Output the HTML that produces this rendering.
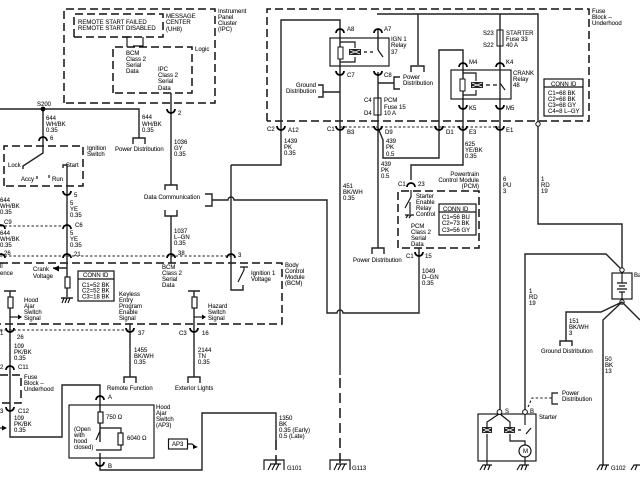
<!DOCTYPE html>
<html><head><meta charset="utf-8"><style>
html,body{margin:0;padding:0;background:#fff}
svg{display:block;filter:blur(.35px)}
text{font-family:"Liberation Sans",sans-serif;font-size:6px;fill:#111;stroke:#111;stroke-width:.08}
.w{fill:none;stroke:#222;stroke-width:1.4}
.t{fill:none;stroke:#111;stroke-width:1.15}
.d{fill:none;stroke:#111;stroke-width:1.5;stroke-dasharray:8 4}
.o{fill:none;stroke:#222;stroke-width:1.1;stroke-dasharray:2.5 2}
.c{fill:none;stroke:#000;stroke-width:1.8}
.x{fill:none;stroke:#fff;stroke-width:.8}
</style></head><body>
<svg width="640" height="480" viewBox="0 0 640 480" xmlns="http://www.w3.org/2000/svg">
<defs>
<path id="n" class="c" d="M-4,1A4,4 0 0 1 4,1"/>
<path id="u" class="c" d="M-4,-1A4,4 0 0 0 4,-1"/>
</defs>
<!-- dashed enclosures -->
<path class="d" d="M64,103V9H215V103H64"/>
<path class="d" d="M74,37V14H163V37H74"/>
<path class="d" d="M113,93V47H192V93H113"/>
<path class="d" d="M4,186V146H83V186H4"/>
<path class="d" d="M0,263H282V324H0"/>
<path class="d" d="M0,375H21V403H0"/>
<path class="d" d="M267,121V9H589V121H267"/>
<path class="d" d="M398,248V191H479V248H398"/>
<!-- dotted connector rows -->
<path class="o" d="M0,226H67M0,256H231M0,330H130M340,127H500"/>
<!-- IPC wiring -->
<path class="t" d="M122,37H132M127,37V47M133,46H143V37"/>
<path class="w" d="M171,93V185M165,190V185H177V190M165,210V216H177V210M171,216V263"/>
<path class="w" d="M205,194H212V206H205M212,200H228A3,3 0 0 1 234,200H327V313H337A3,3 0 0 1 343,313H419V253"/>
<!-- S200 and ignition -->
<path class="w" d="M0,109H139V138M133,144V138H145V144M43,109V153L23,166V169"/>
<circle cx="43" cy="109" r="2.4" fill="#000"/>
<path class="w" d="M63,168V165H67V263M67,268H53M67,263V277M67,288V297M61,298H73"/>
<path fill="#000" d="M53,268.500l6,-3v6z"/>
<rect class="t" x="65" y="277" width="5" height="11"/>
<path class="t" d="M62,303l2,-5M65,303l2,-5M68,303l2,-5"/>
<path class="t" d="M37,176V179M49,175V178"/>
<!-- BCM switch -->
<path class="w" d="M231,165V290H243V285M231,165H281V20H340V375"/>
<path class="t" d="M238,282L244,270V267M240,267H248"/>
<!-- CONN ID 1 -->
<rect x="78" y="271" width="36" height="30" fill="#fff" stroke="#111" stroke-width="1.2"/><path class="t" d="M78,279H114"/>
<!-- Hood -->
<path class="w" d="M4,291H16M10,291V297M10,308V437H62V385H100V412M100,423V442M100,453V470H202V413H276V440"/>
<rect class="t" x="8" y="297" width="5" height="11"/>
<path class="t" d="M10,317H20"/><path fill="#000" d="M22,317l-4,-2.500v5z"/>
<path fill="#000" d="M7,428l-5,-2.500v5z"/><path class="t" d="M0,428H4"/>
<rect class="t" x="69" y="405" width="85" height="53"/>
<rect class="t" x="98" y="412" width="5" height="11"/>
<path class="t" d="M96,440L100,431M100,428H121V433M121,445V450H100M96,450H100"/>
<rect class="t" x="118" y="433" width="5" height="12"/>
<rect class="t" x="168.500" y="439" width="19" height="10"/>
<path class="t" d="M188,444H192L196,447"/><path fill="#000" d="M198,447l-5,-2v4z"/>
<!-- Hazard / Keyless / Remote -->
<path class="w" d="M188,291H200M194,291V297M194,308V377M130,323V377M124,383V377H136V383M188,383V377H200V383"/>
<rect class="t" x="192" y="297" width="5" height="11"/>
<path class="t" d="M194,317H203"/><path fill="#000" d="M206,317l-4,-2.500v5z"/>
<!-- Fuse block -->
<path class="d" style="stroke-dasharray:10 5" d="M340,378V464M276,440V464"/>
<path class="w" d="M378,29V50M378,72V128L383,140V158H439V50H463V165H411V180M378,128V248M372,254V248H384V254"/>
<path class="w" d="M377,14H538V124M418,14V65M411,72V66H424V72M378,83H394M400,77H394V89H400M340,92H323M318,85H323V97H318"/>
<rect class="t" x="330" y="38" width="59" height="28"/>
<rect x="338" y="47" width="5" height="12" fill="#fff" stroke="#111"/>
<path class="t" d="M340,42H355V48M355,57V62H340"/>
<rect x="349" y="49" width="12" height="6" fill="#222"/><path class="x" d="M350,50l10,4M350,54l10,-4"/>
<path class="t" d="M364,52H367M370,52H373M378,50L383,57"/>
<rect x="374" y="98" width="7" height="17" fill="#fff" stroke="#111"/><path class="t" d="M378,98V115"/>
<!-- Crank relay -->
<rect class="t" x="451" y="70" width="60" height="29"/>
<rect x="460" y="79" width="5" height="12" fill="#fff" stroke="#111"/>
<path class="t" d="M463,73H476V81M476,90V95H463"/><rect x="471" y="82" width="12" height="6" fill="#222"/><path class="x" d="M472,83l10,4M472,87l10,-4"/>
<path class="t" d="M486,85H490M493,85H497M500,83L505,90"/>
<path class="w" d="M500,14V412"/>
<rect x="497" y="30" width="6" height="16" fill="#fff" stroke="#111"/><path class="t" d="M500,30V46"/>
<!-- CONN IDs -->
<rect x="544" y="79" width="39" height="37" fill="#fff" stroke="#111" stroke-width="1.2"/><path class="t" d="M544,87H583"/>
<rect x="439" y="204" width="37" height="31" fill="#fff" stroke="#111" stroke-width="1.2"/><path class="t" d="M439,212H476"/>
<!-- PCM -->
<path class="t" d="M411,190V197L405,208M410,202V214M405,215H414M406,218l2,-3M409,218l2,-3"/>
<path class="w" d="M419,248V253"/>
<!-- Battery / starter -->
<path class="w" d="M538,124V224H622V270M525,412V254H606L622,270"/>
<circle cx="538" cy="124" r="2.200" fill="#fff" stroke="#111"/>
<rect class="t" x="612" y="273" width="20" height="26"/>
<path class="t" d="M622,272V283M617,283H627M619,286H625M617,289H627M619,292H625M622,292V302"/>
<circle cx="622" cy="270" r="2.200" fill="#fff" stroke="#111"/><circle cx="622" cy="302" r="2.200" fill="#fff" stroke="#111"/>
<path class="w" d="M622,302L601,312H566V341M560,346V341H572V346M622,302L603,320V465M622,302L640,320"/>
<path class="t" d="M597,470L600,465H609M601,470L603,465M605,470L607,465"/>
<path class="t" d="M631,470L634,465H640M635,470L637,465"/>
<rect class="t" x="478" y="414" width="58" height="47"/>
<path class="t" d="M499,414L487,422V427M500,414L510,422V427M487,434V465M510,434V441H525V446M525,414V425M518,430H521M526,434L531,428M525,457V465"/>
<circle cx="499.500" cy="412" r="2.400" fill="#fff" stroke="#111"/><circle cx="525" cy="412" r="2.400" fill="#fff" stroke="#111"/>
<rect x="482" y="427" width="10" height="6" fill="#222"/><path class="x" d="M483,428l8,4M483,432l8,-4"/><rect x="504" y="427" width="11" height="6" fill="#222"/><path class="x" d="M505,428l9,4M505,432l9,-4"/>
<circle cx="525" cy="451" r="6" fill="#fff" stroke="#111" stroke-width="1.200"/>
<path class="t" d="M480,470L483,465H492M484,470L486,465M488,470L490,465M517,470L520,465H529M521,470L523,465M525,470L527,465"/>
<path class="o" d="M528,407L532,398H552"/>
<path class="t" d="M558,393H552V404H558"/>
<!-- Grounds -->
<path class="t" d="M264,470V460H284V470M268,470L271,464M272,470L275,464M276,470L279,464M270,464H281M330,470V460H350V470M334,470L337,464M338,470L341,464M342,470L345,464M336,464H347"/>
<!-- connector arcs -->
<use href="#u" x="171" y="110"/><use href="#n" x="43" y="140"/><use href="#u" x="67" y="192"/><use href="#n" x="67" y="228"/>
<use href="#n" x="67" y="257"/><use href="#n" x="171" y="257"/><use href="#n" x="231" y="257"/><use href="#n" x="1" y="257"/><use href="#n" x="1" y="228"/>
<use href="#u" x="10" y="329"/><use href="#u" x="130" y="329"/><use href="#u" x="194" y="329"/>
<use href="#n" x="10" y="369"/><use href="#u" x="10" y="408"/><use href="#n" x="100" y="399"/><use href="#u" x="100" y="463"/>
<use href="#n" x="340" y="32"/><use href="#n" x="378" y="32"/><use href="#u" x="340" y="72"/><use href="#u" x="378" y="72"/>
<use href="#u" x="281" y="127"/><use href="#u" x="340" y="127"/><use href="#u" x="378" y="127"/><use href="#u" x="439" y="127"/><use href="#u" x="463" y="127"/><use href="#u" x="500" y="127"/>
<use href="#n" x="463" y="66"/><use href="#n" x="500" y="66"/><use href="#u" x="463" y="106"/><use href="#u" x="500" y="106"/>
<use href="#n" x="411" y="186"/><use href="#u" x="419" y="253"/>
<!-- labels: IPC -->
<text x="78" y="24">REMOTE START FAILED</text><text x="78" y="30">REMOTE START DISABLED</text>
<text x="166" y="18">MESSAGE</text><text x="166" y="24">CENTER</text><text x="166" y="31">(UH8)</text>
<text x="218" y="13">Instrument</text><text x="218" y="19">Panel</text><text x="218" y="25">Cluster</text><text x="218" y="31">(IPC)</text>
<text x="195" y="51">Logic</text>
<text x="126" y="55">BCM</text><text x="126" y="61">Class 2</text><text x="126" y="67">Serial</text><text x="126" y="73">Data</text>
<text x="158" y="71">IPC</text><text x="158" y="77">Class 2</text><text x="158" y="83">Serial</text><text x="158" y="90">Data</text>
<text x="37" y="106">S200</text>
<text x="46" y="120">644</text><text x="46" y="126">WH/BK</text><text x="46" y="132">0.35</text><text x="50" y="140">6</text>
<text x="142" y="119">644</text><text x="142" y="126">WH/BK</text><text x="142" y="132">0.35</text>
<text x="115" y="151">Power Distribution</text><text x="178" y="115">2</text>
<text x="174" y="144">1036</text><text x="174" y="150">GY</text><text x="174" y="156">0.35</text>
<text x="87" y="150">Ignition</text><text x="87" y="156">Switch</text>
<text x="8" y="167">Lock</text><text x="66" y="167">Start</text><text x="21" y="181">Accy</text><text x="52" y="181">Run</text>
<text x="144" y="199">Data Communication</text>
<text x="74" y="197">5</text><text x="70" y="205">5</text><text x="70" y="211">YE</text><text x="70" y="217">0.35</text>
<text x="0" y="202">644</text><text x="0" y="208">WH/BK</text><text x="0" y="214">0.35</text>
<text x="4" y="224">C9</text><text x="75" y="227">C6</text>
<text x="0" y="235">644</text><text x="0" y="241">WH/BK</text><text x="0" y="247">0.35</text>
<text x="70" y="235">5</text><text x="70" y="241">YE</text><text x="70" y="247">0.35</text>
<text x="174" y="233">1037</text><text x="174" y="239">L–GN</text><text x="174" y="245">0.35</text>
<text x="4" y="255">26</text><text x="74" y="256">21</text><text x="178" y="255">38</text><text x="238" y="257">3</text>
<text x="0" y="268">ll</text><text x="0" y="275">ence</text>
<text x="33" y="271">Crank</text><text x="33" y="278">Voltage</text>
<text x="162" y="269">BCM</text><text x="162" y="275">Class 2</text><text x="162" y="281">Serial</text><text x="162" y="287">Data</text>
<text x="251" y="275">Ignition 1</text><text x="251" y="281">Voltage</text>
<text x="285" y="267">Body</text><text x="285" y="273">Control</text><text x="285" y="279">Module</text><text x="285" y="285">(BCM)</text>
<text x="83" y="277">CONN ID</text><text x="82" y="287">C1=52 BK</text><text x="82" y="292.500">C2=52 BK</text><text x="82" y="298.500">C3=18 BK</text>
<text x="24" y="302">Hood</text><text x="24" y="308">Ajar</text><text x="24" y="314">Switch</text><text x="24" y="320">Signal</text>
<text x="119" y="296">Keyless</text><text x="119" y="302">Entry</text><text x="119" y="308">Program</text><text x="119" y="314">Enable</text><text x="119" y="320">Signal</text>
<text x="208" y="308">Hazard</text><text x="208" y="314">Switch</text><text x="208" y="320">Signal</text>
<text x="138" y="335">37</text><text x="202" y="335">16</text><text x="179" y="335">C3</text><text x="17" y="339">26</text><text x="0" y="335">1</text>
<text x="14" y="348">109</text><text x="14" y="354">PK/BK</text><text x="14" y="360">0.35</text>
<text x="0" y="369">2</text><text x="0" y="413">3</text>
<text x="18" y="369">C11</text><text x="24" y="379">Fuse</text><text x="24" y="385">Block –</text><text x="24" y="391">Underhood</text>
<text x="18" y="413">C12</text><text x="14" y="420">109</text><text x="14" y="426">PK/BK</text><text x="14" y="432">0.35</text>
<text x="134" y="352">1455</text><text x="134" y="358">BK/WH</text><text x="134" y="364">0.35</text>
<text x="198" y="352">2144</text><text x="198" y="358">TN</text><text x="198" y="364">0.35</text>
<text x="107" y="390">Remote Function</text><text x="175" y="390">Exterior Lights</text>
<text x="108" y="399">A</text><text x="108" y="468">B</text>
<text x="156" y="409">Hood</text><text x="156" y="415">Ajar</text><text x="156" y="421">Switch</text><text x="156" y="427">(AP3)</text>
<text x="106" y="419">750 Ω</text><text x="127" y="440">6040 Ω</text>
<text x="74" y="431">(Open</text><text x="74" y="437">with</text><text x="74" y="443">hood</text><text x="74" y="449">closed)</text>
<text x="172" y="446">AP3</text>
<text x="279" y="420">1350</text><text x="279" y="426">BK</text><text x="279" y="432">0.35 (Early)</text><text x="279" y="438">0.5 (Late)</text>
<text x="287" y="470">G101</text><text x="352" y="470">G113</text><text x="611" y="470">G102</text>
<!-- labels: fuse block -->
<text x="347" y="31">A8</text><text x="384" y="31">A7</text><text x="391" y="41">IGN 1</text><text x="391" y="47">Relay</text><text x="391" y="54">37</text>
<text x="347" y="77">C7</text><text x="384" y="77">C8</text>
<text x="296" y="87">Ground</text><text x="286" y="93">Distribution</text>
<text x="403" y="79">Power</text><text x="403" y="85">Distribution</text>
<text x="364" y="102">C4</text><text x="364" y="115">D4</text><text x="384" y="102">PCM</text><text x="384" y="109">Fuse 15</text><text x="384" y="115">10 A</text>
<text x="267" y="131">C2</text><text x="288" y="132">A12</text><text x="327" y="131">C1</text><text x="347" y="134">B3</text><text x="385" y="134">D9</text><text x="446" y="134">D1</text><text x="469" y="134">E3</text><text x="506" y="132">E1</text>
<text x="284" y="143">1439</text><text x="284" y="149">PK</text><text x="284" y="155">0.35</text>
<text x="386" y="143">439</text><text x="386" y="149">PK</text><text x="386" y="156">0.5</text>
<text x="381" y="166">439</text><text x="381" y="172">PK</text><text x="381" y="178">0.5</text>
<text x="343" y="188">451</text><text x="343" y="194">BK/WH</text><text x="343" y="200">0.35</text>
<text x="465" y="146">625</text><text x="465" y="152">YE/BK</text><text x="465" y="158">0.35</text>
<text x="479" y="176" text-anchor="end">Powertrain</text><text x="479" y="182" text-anchor="end">Control Module</text><text x="479" y="188" text-anchor="end">(PCM)</text>
<text x="398" y="186">C1</text><text x="418" y="186">23</text>
<text x="416" y="198">Starter</text><text x="416" y="204">Enable</text><text x="416" y="210">Relay</text><text x="416" y="216">Control</text>
<text x="443" y="211">CONN ID</text><text x="442" y="219">C1=56 BU</text><text x="442" y="225">C2=73 BK</text><text x="442" y="232">C3=56 GY</text>
<text x="411" y="228">PCM</text><text x="411" y="234">Class 2</text><text x="411" y="240">Serial</text><text x="411" y="246">Data</text>
<text x="353" y="262">Power Distribution</text><text x="406" y="258">C1</text><text x="425" y="258">15</text>
<text x="422" y="273">1049</text><text x="422" y="279">D–GN</text><text x="422" y="285">0.35</text>
<text x="483" y="35">S23</text><text x="483" y="47">S22</text><text x="506" y="35">STARTER</text><text x="506" y="41">Fuse 33</text><text x="506" y="47">40 A</text>
<text x="469" y="64">M4</text><text x="506" y="64">K4</text><text x="513" y="75">CRANK</text><text x="513" y="81">Relay</text><text x="513" y="87">48</text>
<text x="469" y="110">K5</text><text x="506" y="110">M5</text>
<text x="592" y="13">Fuse</text><text x="592" y="19">Block –</text><text x="592" y="25">Underhood</text>
<text x="551" y="86">CONN ID</text><text x="548" y="95">C1=68 BK</text><text x="548" y="101">C2=68 BK</text><text x="548" y="107">C3=68 GY</text><text x="548" y="113">C4=8 L–GY</text>
<text x="503" y="181">6</text><text x="503" y="187">PU</text><text x="503" y="193">3</text>
<text x="541" y="181">1</text><text x="541" y="187">RD</text><text x="541" y="193">19</text>
<text x="529" y="293">1</text><text x="529" y="299">RD</text><text x="529" y="305">19</text>
<text x="634" y="277">Battery</text>
<text x="569" y="323">151</text><text x="569" y="329">BK/WH</text><text x="569" y="335">3</text>
<text x="541" y="353">Ground Distribution</text>
<text x="605" y="361">50</text><text x="605" y="367">BK</text><text x="605" y="373">13</text>
<text x="562" y="395">Power</text><text x="562" y="401">Distribution</text>
<text x="505" y="413">S</text><text x="530" y="413">B</text><text x="539" y="419">Starter</text>
<text x="523" y="453">M</text>
</svg>
</body></html>
